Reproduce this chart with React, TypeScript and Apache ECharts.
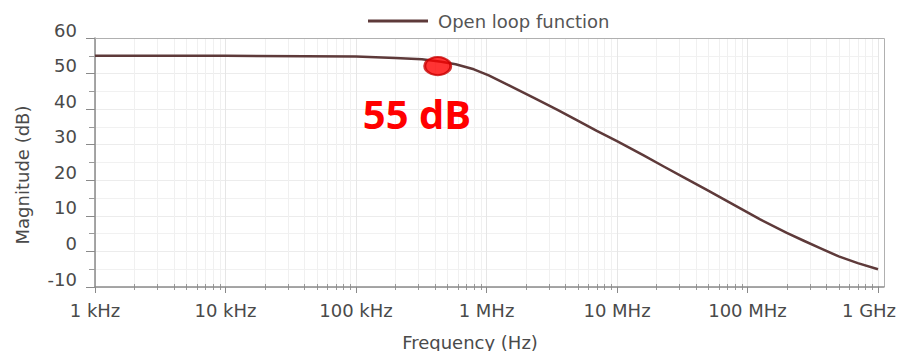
import React, { useEffect, useRef } from "react";
import * as echarts from "echarts";

// Open-loop magnitude response: frequency (Hz) and magnitude (dB)
const freqHz = [
  1e3, 1e4, 1e5, 2e5, 3.2e5, 4.5e5, 5.8e5, 8e5, 1.04e6, 1.5e6, 2.35e6, 3.5e6,
  5e6, 7e6, 1e7, 1.6e7, 2.3e7, 3.3e7, 5e7, 6.5e7, 8.8e7, 1.25e8, 2e8, 2.7e8,
  3.6e8, 5e8, 7e8, 1e9,
];
const magnitudeDb = [
  55, 55, 54.8, 54.4, 54.0, 53.3, 52.6, 51.2, 49.5, 46.6, 43.0, 39.8, 36.8,
  33.9, 31.0, 27.0, 23.8, 20.7, 17.1, 14.8, 12.1, 9.0, 5.2, 3.0, 0.9, -1.4,
  -3.3, -5.0,
];

// Highlighted point near the corner frequency
const markerPoint: [number, number] = [4.23e5, 52.1];
const markerLabel = "55 dB";

const seriesName = "Open loop function";
const xTickLabels = ["1 kHz", "10 kHz", "100 kHz", "1 MHz", "10 MHz", "100 MHz", "1 GHz"];
const xTitle = "Frequency (Hz)";
const yTitle = "Magnitude (dB)";

// Log-spaced minor grid positions (2..9 within each decade)
const minorFreqs: number[] = [];
for (let d = 3; d < 9; d++) {
  for (let k = 2; k <= 9; k++) minorFreqs.push(k * Math.pow(10, d));
}

const Y_MIN = -10;
const Y_MAX = 60;

export default function App() {
  const ref = useRef<HTMLDivElement>(null);

  useEffect(() => {
    if (!ref.current) return;
    const chart = echarts.init(ref.current, undefined, { renderer: "svg" });
    const labelColor = "#4a4a4a";
    const font = "DejaVu Sans, Verdana, sans-serif";

    chart.setOption({
      animation: false,
      backgroundColor: "#ffffff",
      grid: {
        left: 95,
        top: 38,
        right: 19,
        bottom: 64,
        show: false,
        outerBoundsMode: "none",
        containLabel: false,
      },
      legend: {
        data: [seriesName],
        left: 363,
        top: 7,
        icon: "rect",
        itemWidth: 60,
        itemHeight: 3,
        textStyle: { color: "#555", fontSize: 18, fontFamily: font, padding: [0, 0, 0, 5] },
      },
      xAxis: {
        type: "log",
        logBase: 10,
        min: 1e3,
        max: 1e9,
        interval: 1,
        axisLine: { show: true, onZero: false, lineStyle: { color: "#8a8a8a", width: 1.5 } },
        axisTick: { show: true, length: 6, lineStyle: { color: "#8a8a8a" } },
        axisLabel: {
          interval: 0,
          hideOverlap: false,
          margin: 14,
          color: labelColor,
          fontSize: 18,
          fontFamily: font,
          formatter: (_v: number, i: number) =>
            i === xTickLabels.length - 1 ? `{last|${xTickLabels[i]}}` : xTickLabels[i] ?? "",
          rich: {
            last: {
              color: labelColor,
              fontSize: 18,
              fontFamily: font,
              padding: [0, 18, 0, 0],
            },
          },
        },
        splitLine: { show: true, lineStyle: { color: "#e6e6e6", width: 1 } },
      },
      yAxis: {
        type: "value",
        min: Y_MIN,
        max: Y_MAX,
        interval: 10,
        axisLine: { show: true, onZero: false, lineStyle: { color: "#8a8a8a", width: 1.5 } },
        axisTick: { show: true, length: 9, lineStyle: { color: "#8a8a8a" } },
        minorTick: { show: true, splitNumber: 2, length: 6, lineStyle: { color: "#9a9a9a" } },
        axisLabel: {
          margin: 18,
          color: labelColor,
          fontSize: 18,
          fontFamily: font,
          verticalAlign: "bottom",
          lineHeight: 16,
        },
        splitLine: { show: true, lineStyle: { color: "#ececec", width: 1 } },
        minorSplitLine: { show: true, lineStyle: { color: "#f1f1f1", width: 1 } },
      },
      graphic: [
        {
          // plot frame (extends a little past the 1 GHz decade line)
          type: "polyline",
          z: 1,
          silent: true,
          shape: { points: [[95, 38.5], [884.5, 38.5], [884.5, 287]] },
          style: { stroke: "#b0b0b0", lineWidth: 1, fill: "none" },
        },
        {
          type: "line",
          z: 1,
          silent: true,
          shape: { x1: 878, y1: 287, x2: 884.5, y2: 287 },
          style: { stroke: "#8a8a8a", lineWidth: 1.5 },
        },
        {
          type: "text",
          x: 470,
          y: 342,
          style: {
            text: xTitle,
            fill: labelColor,
            fontSize: 18,
            fontFamily: font,
            align: "center",
            verticalAlign: "middle",
          },
        },
        {
          type: "text",
          x: 22,
          y: 175,
          rotation: Math.PI / 2,
          style: {
            text: yTitle,
            fill: labelColor,
            fontSize: 18,
            fontFamily: font,
            align: "center",
            verticalAlign: "middle",
          },
        },
        {
          type: "text",
          x: 417,
          y: 113,
          z: 20,
          style: {
            text: markerLabel,
            fill: "#ff0000",
            fontSize: 40,
            fontWeight: "bold",
            fontFamily: "Open Sans, Noto Sans, sans-serif",
            align: "center",
            verticalAlign: "middle",
          },
        },
      ],
      series: [
        {
          // log-spaced minor vertical grid lines and their axis ticks
          type: "custom",
          silent: true,
          z: 0,
          data: minorFreqs.map((f) => [f, Y_MIN]),
          renderItem: (_params: any, api: any) => {
            const f = api.value(0);
            const top = api.coord([f, Y_MAX]);
            const bottom = api.coord([f, Y_MIN]);
            const x = Math.round(top[0]) + 0.5;
            return {
              type: "group",
              children: [
                {
                  type: "line",
                  shape: { x1: x, y1: top[1], x2: x, y2: bottom[1] },
                  style: { stroke: "#f0f0f0", lineWidth: 1 },
                },
                {
                  type: "line",
                  shape: { x1: x, y1: bottom[1] - 3, x2: x, y2: bottom[1] + 3 },
                  style: { stroke: "#9a9a9a", lineWidth: 1 },
                },
              ],
            };
          },
        },
        {
          name: seriesName,
          type: "line",
          data: freqHz.map((f, i) => [f, magnitudeDb[i]]),
          smooth: false,
          showSymbol: false,
          symbol: "none",
          z: 5,
          lineStyle: { color: "#5e3a3a", width: 2.5, join: "round" },
          itemStyle: { color: "#5e3a3a" },
        },
        {
          type: "scatter",
          data: [markerPoint],
          symbol: "circle",
          symbolSize: [26, 18],
          z: 10,
          silent: true,
          itemStyle: { color: "#ff0000", borderColor: "#c80000", borderWidth: 2.5 },
        },
      ],
    });

    return () => chart.dispose();
  }, []);

  return <div ref={ref} style={{ width: 897, height: 351, position: "absolute", left: 0, top: 0 }} />;
}
